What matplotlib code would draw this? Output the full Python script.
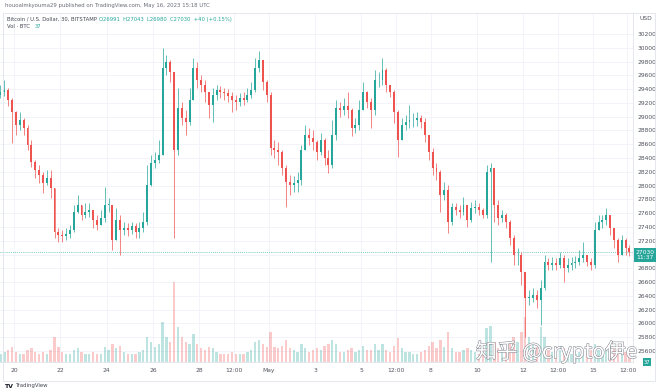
import numpy as np
import matplotlib
matplotlib.use("Agg")
import matplotlib.pyplot as plt
import matplotlib.patheffects as pe
from matplotlib.patches import Rectangle

# BTC / USD (Bitstamp), 4-hour candles, first one starts Apr 19 08:00 UTC
start_day = 8 / 24  # days since Apr 19 00:00
first_open = 29320

closes = [
    29360, 29390, 29240, 29070, 28880, 28950, 28840, 28590, 28340, 28230,
    28150, 28040, 28110, 27970, 27330, 27280, 27270, 27300, 27360, 27620,
    27720, 27570, 27620, 27650, 27500, 27430, 27530, 27720, 27720, 27210,
    27500, 27360, 27390, 27360, 27410, 27330, 27390, 27470, 28010, 28330,
    28370, 28440, 29710, 29790, 29650, 28520, 29130, 28980, 28920, 29240,
    29710, 29530, 29460, 29360, 29170, 29310, 29390, 29360, 29340, 29300,
    29240, 29210, 29270, 29240, 29310, 29390, 29710, 29820, 29500, 29310,
    28550, 28520, 28490, 28260, 28050, 28010, 28040, 28080, 28520, 28730,
    28690, 28630, 28490, 28660, 28400, 28300, 28740, 29130, 29100, 29160,
    29100, 28840, 28880, 29100, 29360, 29210, 29100, 29530, 29530, 29680,
    29460, 29360, 29070, 28660, 28880, 28920, 28950, 28950, 28980, 28920,
    28740, 28490, 28260, 28200, 27860, 27940, 27470, 27690, 27650, 27620,
    27720, 27500, 27680, 27690, 27650, 27570, 28200, 28260, 27720, 27530,
    27570, 27470, 27240, 26990, 26990, 26750, 26370, 26370, 26410, 26340,
    26510, 26890, 26850, 26880, 26850, 26950, 26800, 26850, 26880, 26890,
    26950, 26990, 26890, 26850, 27360, 27470, 27500, 27570, 27390, 27210,
    26990, 27210, 27100, 27030,
]
highs = [
    29460, 29530, 29420, 29270, 29080, 29070, 28980, 28880, 28660, 28370,
    28300, 28200, 28230, 28230, 27970, 27390, 27360, 27390, 27430, 27720,
    27860, 27720, 27750, 27750, 27650, 27570, 27650, 27980, 27820, 27720,
    27680, 27570, 27470, 27460, 27470, 27460, 27470, 27620, 28300, 28440,
    28490, 28660, 30000, 29900, 29820, 29650, 29420, 29210, 29100, 29420,
    29850, 29790, 29610, 29530, 29360, 29420, 29460, 29450, 29420, 29400,
    29360, 29310, 29340, 29360, 29420, 29500, 29850, 29950, 29830, 29530,
    29360, 28660, 28630, 28520, 28300, 28150, 28140, 28200, 28590, 28880,
    28840, 28810, 28660, 28760, 28690, 28520, 28950, 29240, 29210, 29270,
    29360, 29130, 28980, 29240, 29500, 29380, 29270, 29680, 29650, 29850,
    29700, 29460, 29390, 29100, 28980, 29030, 29170, 29050, 29070, 29030,
    28980, 28740, 28550, 28330, 28230, 28050, 28010, 27750, 27750, 27720,
    27840, 27720, 27760, 27790, 27750, 27680, 28300, 28330, 28260, 27790,
    27650, 27600, 27500, 27280, 27100, 27040, 26750, 26490, 26510, 26490,
    26630, 26990, 26950, 26960, 26950, 27040, 26990, 26950, 26960, 26980,
    27070, 27180, 26990, 26950, 27470, 27570, 27570, 27680, 27570, 27390,
    27240, 27280, 27240, 27140,
]
lows = [
    29270, 29300, 29160, 28620, 28740, 28810, 28740, 28520, 28270, 28110,
    28040, 27890, 28010, 27820, 27240, 27180, 27180, 27210, 27240, 27330,
    27600, 27500, 27530, 27540, 27390, 27360, 27430, 27470, 27620, 27070,
    27210, 26990, 27280, 27270, 27300, 27240, 27240, 27330, 27430, 28000,
    28260, 28330, 28440, 29610, 29500, 27240, 28440, 28880, 28740, 28880,
    29240, 29420, 29360, 29210, 28980, 28920, 29240, 29270, 29240, 29210,
    29070, 29100, 29160, 29170, 29210, 29270, 29360, 29650, 29390, 29210,
    28440, 28400, 28300, 28150, 27690, 27860, 27910, 27910, 28010, 28520,
    28590, 28520, 28370, 28440, 28300, 28180, 28260, 28660, 29000, 29030,
    28980, 28720, 28760, 28810, 29100, 29130, 28840, 29030, 29430, 29460,
    29360, 29290, 28910, 28420, 28660, 28810, 28840, 28850, 28870, 28840,
    28630, 28370, 28150, 28080, 27620, 27790, 27310, 27430, 27570, 27530,
    27570, 27400, 27470, 27600, 27570, 27530, 27530, 26890, 27470, 27430,
    27470, 27390, 27140, 26850, 26850, 26560, 25810, 26270, 26310, 26220,
    25980, 26490, 26780, 26780, 26780, 26800, 26600, 26750, 26780, 26800,
    26850, 26890, 26830, 26780, 26800, 27360, 27390, 27430, 27280, 27100,
    26890, 26990, 26990, 26980,
]
volumes = [
    320, 400, 480, 600, 400, 320, 320, 480, 560, 400, 320, 400, 320, 480,
    1000, 600, 400, 320, 320,
    480, 560, 400, 320, 320, 400, 320, 320,
    600, 480, 720, 560, 640, 400, 320, 320, 320, 400, 480,
    1000, 800, 600, 720,
    1600, 1000, 800, 3200,
    1400, 1000, 800, 720, 1120, 720, 560, 480, 600, 560,
    400, 320, 320, 320, 400, 320, 320, 320, 400, 480,
    800, 880, 720, 600, 1200,
    600, 560, 640, 880, 560, 480, 400, 720,
    560, 400, 480, 560, 480, 640, 720,
    880, 720, 400, 400, 480, 560, 400, 480,
    640, 480, 480, 720, 480, 720, 480, 400,
    640, 960, 560, 400, 400, 320, 320, 400,
    480, 640, 800, 560, 880, 600, 1200, 560,
    400, 400, 480, 560, 480, 400, 320, 480,
    1360, 1440, 800, 560, 400, 480,
    720, 1000, 800, 1200, 1800,
    1000, 720, 600, 1400, 1000,
    480, 400, 400, 480, 560, 400, 320, 320, 400, 480, 400, 480,
    720, 480, 400, 560, 480, 560, 640, 480, 400, 240,
]

last_price = 27030
date_ticks = [1, 3, 5, 7, 9, 10.5, 12, 14, 16, 17.5, 19, 21, 23, 24.5, 26, 27.5]
date_labels = ["20", "22", "24", "26", "28", "12:00", "May", "3", "5", "12:00",
               "8", "10", "12", "12:00", "15", "12:00"]
price_ticks = np.arange(25600, 30201, 200)

UP = "#26a69a"
DOWN = "#ef5350"
GRID = "#f0f3fa"
FRAME = "#e0e3eb"
TXT = "#50535e"

W, H = 660, 392


def fx(px):
    return px / W


def fy(py):
    return 1 - py / H


closes = np.array(closes)
highs = np.array(highs)
lows = np.array(lows)
volumes = np.array(volumes)
opens = np.concatenate([[first_open], closes[:-1]])
n = len(closes)
t = start_day + np.arange(n) / 6 + 1 / 12
up = closes >= opens
colors = np.where(up, UP, DOWN)

fig = plt.figure(figsize=(W / 100, H / 100), dpi=100)
fig.patch.set_facecolor("white")

ax = fig.add_axes([0, fy(362), fx(633), fy(13) - fy(362)])
ax.set_xlim(1 - 14 / 23.15, 1 + 619 / 23.15)
ax.set_ylim(25440, 30505)

# volume overlay
axv = ax.twinx()
axv.set_ylim(0, 14000)
axv.bar(t, volumes, width=0.6 / 6, color=colors, alpha=0.3, linewidth=0)
axv.set_yticks([])
for s in axv.spines.values():
    s.set_visible(False)

# candles
ax.vlines(t, lows, highs, colors=colors, linewidth=0.5, zorder=3)
body_low = np.minimum(opens, closes)
body_h = np.maximum(np.abs(closes - opens), 8)
ax.bar(t, body_h, bottom=body_low, width=0.5 / 6, color=colors, linewidth=0, zorder=4)

ax.axhline(last_price, color=UP, linewidth=0.6, linestyle=(0, (1, 1.5)), alpha=0.8, zorder=2)

ax.set_xticks(date_ticks)
ax.set_xticklabels(date_labels)
ax.set_yticks(price_ticks)
# the 27000 label sits under the last-price box
ax.set_yticklabels(["" if p == 27000 else str(p) for p in price_ticks])
ax.yaxis.tick_right()
ax.tick_params(axis="both", length=0, labelsize=4.3, colors=TXT)
ax.tick_params(axis="x", pad=4)
ax.tick_params(axis="y", pad=3)
ax.grid(True, color=GRID, linewidth=0.6)
ax.set_axisbelow(True)
for name, s in ax.spines.items():
    s.set_color(FRAME)
    s.set_linewidth(0.6)
ax.spines["left"].set_visible(False)
ax.spines["top"].set_visible(False)

# outer chart frame
fig.patches.append(Rectangle((fx(3), fy(381)), fx(652), fy(13) - fy(381),
                             transform=fig.transFigure, fill=False,
                             edgecolor=FRAME, linewidth=0.6))

# header texts
fig.text(fx(5), fy(6), "houoalmkyouma29 published on TradingView.com, May 16, 2023 15:18 UTC",
         fontsize=3.9, color="#6a6d78", va="center")
fig.text(fx(7), fy(19), "Bitcoin / U.S. Dollar, 30, BITSTAMP", fontsize=3.8, color="#434651", va="center")
fig.text(fx(99), fy(19), "O26991  H27043  L26980  C27030  +40 (+0.15%)", fontsize=3.8, color=UP, va="center")
fig.text(fx(7), fy(27), "Vol · BTC", fontsize=3.8, color="#434651", va="center")
fig.text(fx(35), fy(27), "37", fontsize=3.8, color=UP, va="center")
fig.text(fx(646), fy(18), "USD", fontsize=4.3, color=TXT, va="center", ha="center")

# last price label
fig.text(fx(645), fy(255), "27030\n11:37", fontsize=4.3, color="white", va="center", ha="center",
         linespacing=1.1,
         bbox=dict(boxstyle="square,pad=0.25", facecolor=UP, edgecolor="none"))
fig.text(fx(647), fy(362), "37", fontsize=3.8, color="white", va="center", ha="center",
         bbox=dict(boxstyle="square,pad=0.2", facecolor=UP, edgecolor="none"))

# watermark
fig.text(fx(476), fy(352), "知乎 @crypto伊e", fontsize=15, color="white", va="center",
         family=["Noto Sans CJK SC", "DejaVu Sans"],
         path_effects=[pe.withStroke(linewidth=0.8, foreground="#8a8d96")])

# TradingView logo
fig.text(fx(4), fy(386), "TV", fontsize=4.5, color="#131722", fontweight="bold", va="center")
fig.text(fx(15), fy(386), "TradingView", fontsize=3.9, color="#434651", va="center")

fig.savefig("out.png", dpi=100, facecolor="white")
